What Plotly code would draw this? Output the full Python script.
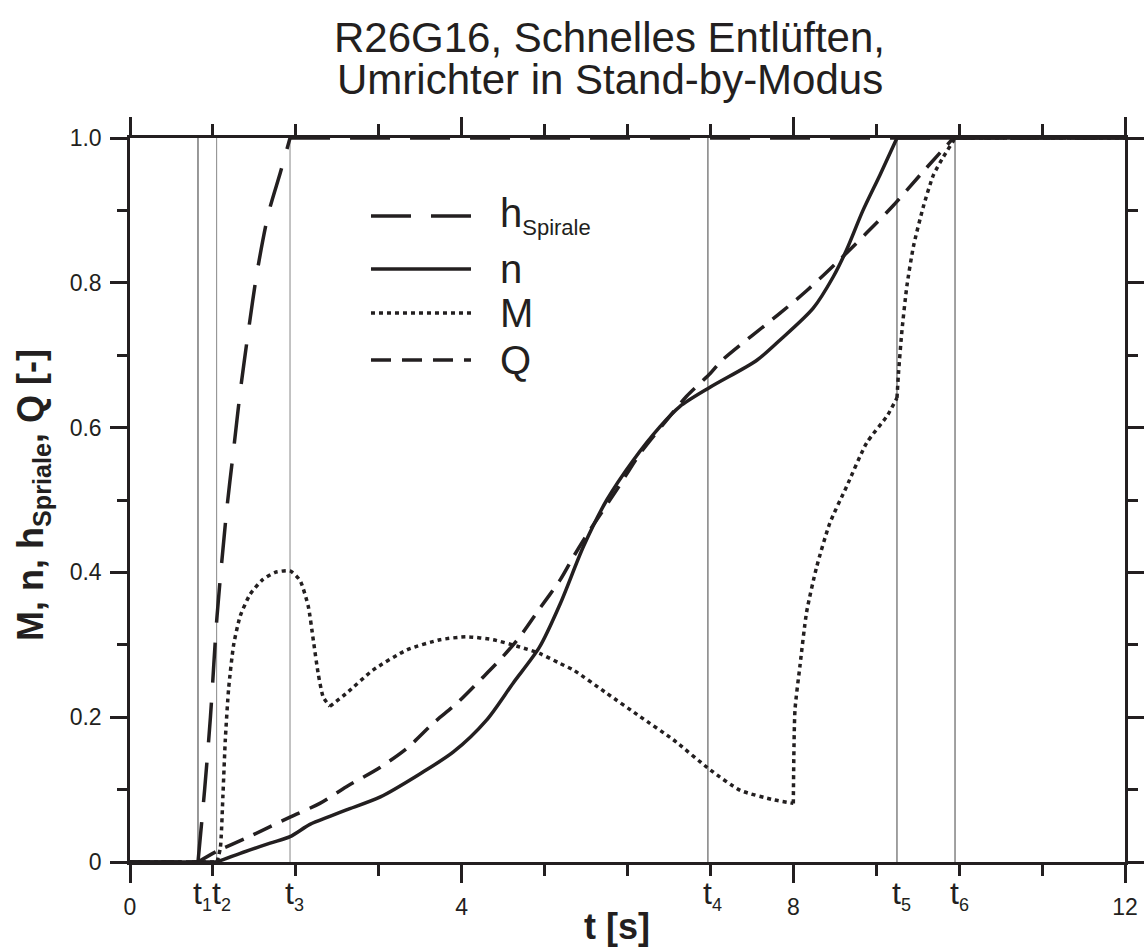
import plotly.graph_objects as go

# ---------------- data ----------------
t_h = [0, 0.82, 0.90, 0.97, 1.05, 1.17, 1.25, 1.33, 1.43, 1.53, 1.67, 1.81, 1.93, 12]
h_spirale = [0, 0, 0.10, 0.20, 0.34, 0.49, 0.57, 0.65, 0.735, 0.813, 0.896, 0.951, 1.0, 1.0]

t_n = [0, 1.045, 1.33, 1.69, 1.93, 2.17, 2.41, 2.61, 3.02, 3.50, 3.90, 4.30, 4.62, 4.94,
       5.19, 5.47, 5.75, 6.07, 6.39, 6.63, 7.00, 7.56, 7.84, 8.24, 8.48, 8.64, 8.84, 9.045, 9.25, 12]
n = [0, 0, 0.012, 0.026, 0.035, 0.052, 0.063, 0.072, 0.090, 0.122, 0.152, 0.196, 0.247, 0.297,
     0.357, 0.436, 0.500, 0.555, 0.601, 0.629, 0.656, 0.693, 0.721, 0.765, 0.808, 0.845, 0.900, 0.949, 1.0, 1.0]

t_M = [0, 1.05, 1.09, 1.12, 1.15, 1.19, 1.25, 1.33, 1.45, 1.60, 1.75, 1.93, 2.05, 2.15, 2.21,
       2.27, 2.33, 2.41, 2.61, 2.93, 3.34, 3.74, 4.06, 4.38, 4.70, 4.94, 5.19, 5.35, 5.75, 6.15,
       6.55, 7.00, 7.36, 7.76, 8.00, 8.02, 8.08, 8.16, 8.28, 8.44, 8.64, 8.885, 9.13, 9.25, 9.27,
       9.31, 9.37, 9.45, 9.57, 9.69, 9.81, 9.93, 9.95, 12]
M = [0, 0, 0.02, 0.09, 0.17, 0.24, 0.30, 0.34, 0.37, 0.39, 0.40, 0.402, 0.389, 0.353, 0.307,
     0.26, 0.228, 0.215, 0.233, 0.265, 0.293, 0.307, 0.311, 0.307, 0.297, 0.288, 0.274, 0.265, 0.233, 0.201,
     0.169, 0.127, 0.099, 0.086, 0.081, 0.21, 0.271, 0.345, 0.407, 0.468, 0.518, 0.579, 0.616, 0.641, 0.678,
     0.734, 0.796, 0.851, 0.906, 0.949, 0.974, 0.996, 1.0, 1.0]

t_Q = [0, 0.82, 1.05, 1.40, 1.93, 2.29, 2.61, 3.02, 3.34, 3.66, 3.94, 4.22, 4.46, 4.70, 4.94,
       5.19, 5.35, 5.55, 5.87, 6.15, 6.47, 6.71, 7.00, 7.14, 7.84, 8.16, 8.56, 8.885, 9.20, 9.53, 9.93, 12]
Q = [0, 0, 0.015, 0.033, 0.062, 0.081, 0.104, 0.131, 0.157, 0.192, 0.219, 0.251, 0.279, 0.311, 0.350,
     0.390, 0.422, 0.459, 0.514, 0.564, 0.610, 0.643, 0.675, 0.693, 0.758, 0.789, 0.832, 0.869, 0.906, 0.949, 1.0, 1.0]

# times where a curve has a sharp corner (curves are smoothed only between corners)
corners_h = [0.82, 1.93]
corners_n = [1.045, 9.25]
corners_M = [1.05, 2.41, 8.00, 9.25, 9.95]
corners_Q = [0.82, 9.93]

t_marks = [0.82, 1.045, 1.93, 6.97, 9.25, 9.95]
t_mark_subs = ["1", "2", "3", "4", "5", "6"]
t_mark_colors = ["#333333", "#888888", "#888888", "#444444", "#444444", "#444444"]

x_tickvals = [0, 4, 8, 12]
x_ticktext = ["0", "4", "8", "12"]
y_tickvals = [0, 0.2, 0.4, 0.6, 0.8, 1.0]
y_ticktext = ["0", "0.2", "0.4", "0.6", "0.8", "1.0"]

legend_labels = ["h<sub><span style='font-size:22px'>Spirale</span></sub>", "n", "M", "Q"]

# ---------------- styles ----------------
INK = "#231f20"
FONT = "Liberation Sans, Arial, sans-serif"
dash_h = "40px,20px"
dash_n = "solid"
dash_M = "4px,4px"
dash_Q = "20px,11px"
LW = 3.5

fig = go.Figure()


def add_series(xs, ys, corners, dash, name, smoothing):
    bounds = [xs[0]] + list(corners) + [xs[-1]]
    for a, b in zip(bounds[:-1], bounds[1:]):
        idx = [i for i, x in enumerate(xs) if a - 1e-9 <= x <= b + 1e-9]
        sx = [xs[i] for i in idx]
        sy = [ys[i] for i in idx]
        if len(sx) < 2:
            continue
        ln = dict(color=INK, width=LW, dash=dash)
        if len(sx) > 2:
            ln["shape"] = "spline"
            ln["smoothing"] = smoothing
        fig.add_trace(go.Scatter(x=sx, y=sy, mode="lines", name=name, showlegend=False, line=ln))


add_series(t_h, h_spirale, corners_h, dash_h, "h", 0.8)
add_series(t_n, n, corners_n, dash_n, "n", 0.8)
add_series(t_M, M, corners_M, dash_M, "M", 0.6)
add_series(t_Q, Q, corners_Q, dash_Q, "Q", 0.8)

# vertical event lines
for tm, col in zip(t_marks, t_mark_colors):
    fig.add_shape(type="line", xref="x", yref="paper", x0=tm, x1=tm, y0=0, y1=1,
                  line=dict(color=col, width=1), layer="below")

annotations = []
for tm, sub in zip(t_marks, t_mark_subs):
    annotations.append(dict(x=tm, y=-0.046, xref="x", yref="paper",
                            text="t<sub><span style='font-size:18px'>" + sub + "</span></sub>",
                            showarrow=False, xanchor="left", yanchor="middle", xshift=-7,
                            font=dict(family=FONT, size=32, color=INK)))

# titles
annotations.append(dict(x=0.482, y=1.139, xref="paper", yref="paper", showarrow=False,
                        text="R26G16, Schnelles Entlüften,", xanchor="center", yanchor="middle",
                        font=dict(family=FONT, size=42, color=INK)))
annotations.append(dict(x=0.482, y=1.081, xref="paper", yref="paper", showarrow=False,
                        text="Umrichter in Stand-by-Modus", xanchor="center", yanchor="middle",
                        font=dict(family=FONT, size=42, color=INK)))
annotations.append(dict(x=0.4894, y=-0.089, xref="paper", yref="paper", showarrow=False,
                        text="<b>t [s]</b>", xanchor="center", yanchor="middle",
                        font=dict(family=FONT, size=36, color=INK)))
annotations.append(dict(x=-0.0975, y=0.507, xref="paper", yref="paper", showarrow=False,
                        text="<b>M, n, h<sub>Spriale</sub>, Q [-]</b>", textangle=-90,
                        xanchor="center", yanchor="middle",
                        font=dict(family=FONT, size=36, color=INK)))

# custom legend (long sample lines as in the reference)
leg_y = [0.8923, 0.8191, 0.7583, 0.6934]
leg_dash = [dash_h, dash_n, dash_M, dash_Q]
for yy, dsh, lab in zip(leg_y, leg_dash, legend_labels):
    fig.add_shape(type="line", xref="paper", yref="paper", x0=0.2422, x1=0.3427, y0=yy, y1=yy,
                  line=dict(color=INK, width=LW, dash=dsh))
    annotations.append(dict(x=0.3698, y=yy, xref="paper", yref="paper", text=lab, showarrow=False,
                            xanchor="left", yanchor="middle", yshift=0,
                            font=dict(family=FONT, size=40, color=INK)))

fig.update_layout(
    width=1144, height=948,
    margin=dict(l=130, r=19, t=138, b=86, autoexpand=False),
    paper_bgcolor="white", plot_bgcolor="white",
    font=dict(family=FONT, color=INK),
    annotations=annotations,
    showlegend=False,
)
fig.update_xaxes(range=[0, 12], tickvals=x_tickvals, ticktext=x_ticktext, automargin=False,
                 ticks="outside", ticklen=18, tickwidth=2.5, tickcolor=INK,
                 minor=dict(dtick=1, tick0=0, ticks="outside", ticklen=11, tickwidth=2.5, tickcolor=INK),
                 showline=True, linewidth=2.5, linecolor=INK, mirror="allticks",
                 showgrid=False, zeroline=False, ticklabelstandoff=5,
                 tickfont=dict(family=FONT, size=23, color=INK))
fig.update_yaxes(range=[0, 1], tickvals=y_tickvals, ticktext=y_ticktext, automargin=False,
                 ticks="outside", ticklen=17, tickwidth=2.5, tickcolor=INK,
                 minor=dict(dtick=0.1, tick0=0, ticks="outside", ticklen=10, tickwidth=2.5, tickcolor=INK),
                 showline=True, linewidth=2.5, linecolor=INK, mirror="allticks",
                 showgrid=False, zeroline=False, ticklabelstandoff=4,
                 tickfont=dict(family=FONT, size=23, color=INK))

fig.write_html("out.html")
